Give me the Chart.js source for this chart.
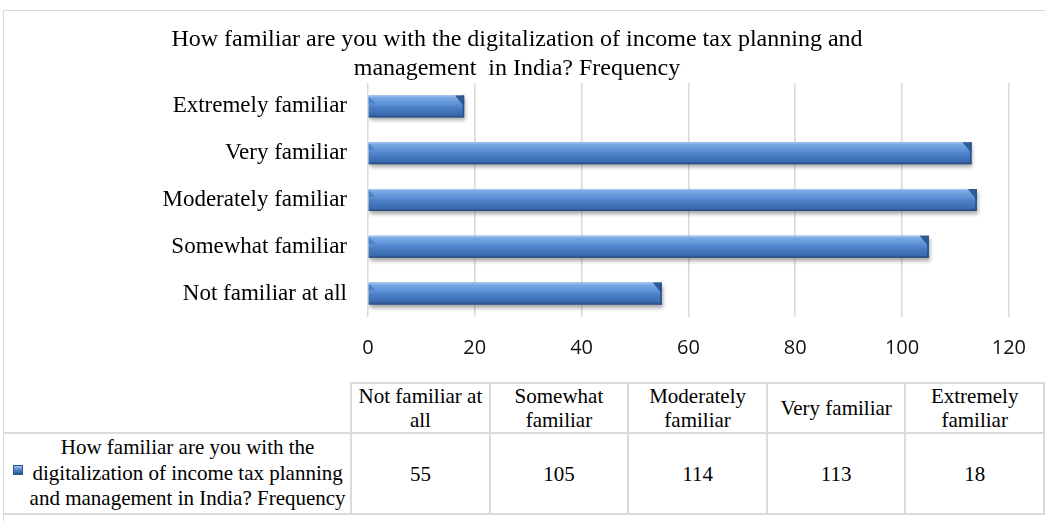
<!DOCTYPE html>
<html>
<head>
<meta charset="utf-8">
<script src="https://cdn.jsdelivr.net/npm/chart.js@4.4.1/dist/chart.umd.min.js"></script>
<style>
  html, body { margin: 0; padding: 0; background: #fff; }
  body { width: 1045px; height: 521px; overflow: hidden; position: relative;
         font-family: "Liberation Serif", "Times New Roman", serif; color: #000; }
  #frame { position: absolute; left: 3px; top: 10px; width: 1100px; height: 600px;
           border: 1px solid #d9d9d9; box-sizing: border-box; }
  #chartBox { position: absolute; left: 0; top: 0; width: 1045px; height: 370px; }
  #dataTable { position: absolute; left: 3px; top: 382px; border-collapse: collapse;
               table-layout: fixed; font-size: 21px; line-height: 24px; }
  #dataTable td { border: 2px solid #dadada; text-align: center; vertical-align: middle;
                  padding: 0 2px; }
  #dataTable tr.head td { height: 40px; }
  #dataTable tr.vals td { height: 79px; }
  #dataTable td.blank { border-top: none; border-left: none; }
  #dataTable td.key { border-left: none; padding: 0 4px 0 26px; position: relative; line-height: 25.5px; }
  .swatch { position: absolute; left: 10px; top: 31px; width: 8px; height: 8px;
            background: linear-gradient(#9dc2ee, #4a7ec4 55%, #2c5790); border: 1px solid #2c5790; }
</style>
</head>
<body>
<div id="frame"></div>
<div id="chartBox"><canvas id="chartFamiliar"></canvas></div>
<table id="dataTable">
  <colgroup id="cols"></colgroup>
  <tr class="head" id="headRow"><td class="blank"></td></tr>
  <tr class="vals" id="valRow"><td class="key"><span class="swatch"></span><span id="keyText"></span></td></tr>
</table>
<script>
// survey answers and counts (table order, bottom-to-top on the chart)
const categories = ["Not familiar at all", "Somewhat familiar", "Moderately familiar", "Very familiar", "Extremely familiar"];
const frequency = [55, 105, 114, 113, 18];
const titleLines = ["How familiar are you with the digitalization of income tax planning and", "management  in India? Frequency"];
const seriesLines = ["How familiar are you with the", "digitalization of income tax planning", "and management in India? Frequency"];
const xMin = 0;
const xMax = 120;
const xStep = 20;

const GRID = "#d9d9d9";
const BAR_MID = "#4a7ec4";
const SERIF = "'Liberation Serif', 'Times New Roman', serif";

// bevelled "3D" look for the bars, drawn over each bar element Chart.js laid out
const bevelBars = {
  id: "bevelBars",
  beforeDatasetsDraw(chart) {
    const ctx = chart.ctx;
    ctx.save();
    ctx.shadowColor = "rgba(0,0,0,0.35)";
    ctx.shadowBlur = 4;
    ctx.shadowOffsetX = 1;
    ctx.shadowOffsetY = 3;
  },
  afterDatasetsDraw(chart) {
    const ctx = chart.ctx;
    ctx.restore();
    chart.getDatasetMeta(0).data.forEach((bar) => {
      const left = Math.min(bar.base, bar.x);
      const right = Math.max(bar.base, bar.x);
      const top = bar.y - bar.height / 2;
      const bottom = bar.y + bar.height / 2;
      const h = bottom - top;
      ctx.save();
      const g = ctx.createLinearGradient(0, top, 0, bottom);
      g.addColorStop(0, "#a8caf2");
      g.addColorStop(0.1, "#78a8e4");
      g.addColorStop(0.38, "#5e92d7");
      g.addColorStop(0.55, "#4b7fc6");
      g.addColorStop(0.88, "#3b6bae");
      g.addColorStop(1, "#24467a");
      ctx.fillStyle = g;
      ctx.fillRect(left, top, right - left, h);
      // right end bevel
      const b = Math.min(9, right - left);
      ctx.fillStyle = "#2f5b95";
      ctx.beginPath();
      ctx.moveTo(right - b, top);
      ctx.lineTo(right, top);
      ctx.lineTo(right, top + h * 0.5);
      ctx.closePath();
      ctx.fill();
      ctx.fillStyle = "#2b5289";
      ctx.fillRect(right - 1.5, top, 1.5, h);
      // left end bevel
      ctx.fillStyle = "#5082c8";
      ctx.beginPath();
      ctx.moveTo(left, top + 1);
      ctx.lineTo(left + 7, top + 8);
      ctx.lineTo(left, top + 8);
      ctx.closePath();
      ctx.fill();
      ctx.restore();
    });
  }
};

new Chart(document.getElementById("chartFamiliar"), {
  type: "bar",
  data: {
    labels: categories,
    datasets: [{
      label: seriesLines.join(" "),
      data: frequency,
      backgroundColor: BAR_MID,
      borderWidth: 0,
      barPercentage: 0.47,
      categoryPercentage: 1
    }]
  },
  options: {
    indexAxis: "y",
    responsive: true,
    maintainAspectRatio: false,
    animation: false,
    layout: { padding: { top: 25, left: 5, right: 16, bottom: 10 } },
    plugins: {
      legend: { display: false },
      tooltip: { enabled: false },
      title: {
        display: true,
        text: titleLines,
        color: "#000",
        font: { family: SERIF, size: 24, weight: "normal", lineHeight: 29 / 24 },
        padding: { top: 0, bottom: 0 }
      }
    },
    scales: {
      x: {
        min: xMin,
        max: xMax,
        afterFit(scale) { scale.height = 43; },
        ticks: { stepSize: xStep, color: "#111", padding: 19, font: { family: "'Open Sans', sans-serif", size: 20 } },
        grid: { color: GRID, lineWidth: 1.5, drawTicks: false },
        border: { display: false }
      },
      y: {
        reverse: true,
        afterFit(scale) { scale.width = 363; },
        ticks: { color: "#000", padding: 21, font: { family: SERIF, size: 23 } },
        grid: { display: false, drawTicks: false },
        border: { display: false }
      }
    }
  },
  plugins: [bevelBars]
});

// data table under the chart
const cols = document.getElementById("cols");
const firstCol = document.createElement("col");
firstCol.style.width = "350px";
cols.appendChild(firstCol);
categories.forEach((c, i) => {
  const col = document.createElement("col");
  col.style.width = "139px";
  cols.appendChild(col);
  const th = document.createElement("td");
  th.textContent = c;
  document.getElementById("headRow").appendChild(th);
  const td = document.createElement("td");
  td.textContent = frequency[i];
  document.getElementById("valRow").appendChild(td);
});
document.getElementById("keyText").innerHTML = seriesLines.join("<br>");
</script>
</body>
</html>
